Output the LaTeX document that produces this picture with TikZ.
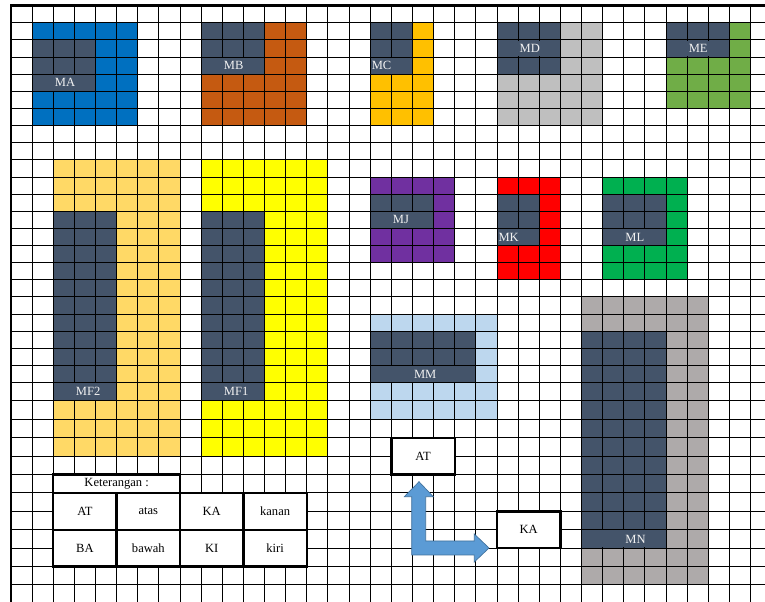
\documentclass[tikz,border=0pt]{standalone}
\usepackage{fontspec}
\setmainfont{Liberation Serif}
\definecolor{gelap}{HTML}{44546A}
\definecolor{biru}{HTML}{0070C0}
\definecolor{oranye}{HTML}{C55A11}
\definecolor{emas}{HTML}{FFC000}
\definecolor{abu}{HTML}{BFBFBF}
\definecolor{hijaumuda}{HTML}{70AD47}
\definecolor{kuningmuda}{HTML}{FFD966}
\definecolor{kuning}{HTML}{FFFF00}
\definecolor{ungu}{HTML}{7030A0}
\definecolor{merah}{HTML}{FF0000}
\definecolor{hijau}{HTML}{00B050}
\definecolor{birumuda}{HTML}{BDD7EE}
\definecolor{abutua}{HTML}{AEAAAA}
\definecolor{panahisi}{HTML}{5B9BD5}
\definecolor{panahtepi}{HTML}{41719C}
\definecolor{teksterang}{HTML}{F2F2F2}
% one coloured block of cells: colour, col from, row from, col to, row to
\newcommand{\blok}[5]{\fill[#1] ({cx(#2)},{ry(#3)}) rectangle ({cx(#4)},{ry(#5)});}
% name of a block: node name, col from, col to, row, text col, text
\newcommand{\namablok}[6]{%
  \fill[gelap] ({cx(#2)+0.7},{ry(#4)+0.7}) rectangle ({cx(#3)-0.7},{ry(#4+1)-0.7});
  \node[namateks] (#1) at ({cx(#5)},{(ry(#4)+ry(#4+1))/2}) {#6};}
\tikzset{
  garis/.style={black,line width=0.7pt},
  tebal/.style={black,line width=1.8pt},
  teks/.style={font=\fontsize{9.4}{11}\selectfont,inner sep=1pt},
  namateks/.style={teks,text=teksterang,anchor=west},
  kotak/.style={tebal,fill=white,teks,minimum width=47.5pt,minimum height=27.6pt},
  panah/.style={fill=panahisi,draw=panahtepi,line width=0.5pt,line join=miter}
}
\begin{document}
\begin{tikzpicture}[x=0.75pt,y=-0.75pt,
  declare function={cx(\c)=11+21.13*\c;
                    ry(\r)=5.7+17.13*min(\r,22)+18.4*max(\r-22,0);}]
  \useasboundingbox (0,0) rectangle (765,602);
  \clip (0,0) rectangle (765,602);
  \fill[white] (0,0) rectangle (765,602);
  % blocks, top row
  \blok{biru}{1}{1}{6}{7}
  \blok{gelap}{1}{2}{4}{5}
  \blok{oranye}{9}{1}{14}{7}
  \blok{gelap}{9}{1}{12}{4}
  \blok{emas}{17}{1}{20}{7}
  \blok{gelap}{17}{1}{19}{4}
  \blok{abu}{23}{1}{28}{7}
  \blok{gelap}{23}{1}{26}{4}
  \blok{hijaumuda}{31}{1}{35}{6}
  \blok{gelap}{31}{1}{34}{3}
  % long blocks
  \blok{kuningmuda}{2}{9}{8}{26}
  \blok{gelap}{2}{12}{5}{23}
  \blok{kuning}{9}{9}{15}{26}
  \blok{gelap}{9}{12}{12}{23}
  % middle blocks
  \blok{ungu}{17}{10}{21}{15}
  \blok{gelap}{17}{11}{20}{13}
  \blok{merah}{23}{10}{26}{16}
  \blok{gelap}{23}{11}{25}{14}
  \blok{hijau}{28}{10}{32}{16}
  \blok{gelap}{28}{11}{31}{14}
  \blok{birumuda}{17}{18}{23}{24}
  \blok{gelap}{17}{19}{22}{22}
  \blok{abutua}{27}{17}{33}{33}
  \blok{gelap}{27}{19}{31}{31}
  % grid
  \foreach \c in {1,...,36}
    \draw[garis] ({cx(\c)},{ry(0)}) -- ({cx(\c)},{ry(35)});
  \foreach \r in {1,...,35}
    \draw[garis] ({cx(0)},{ry(\r)}) -- ({cx(36)},{ry(\r)});
  \draw[tebal] ({cx(0)},{ry(35)}) -- ({cx(0)},{ry(0)}) -- ({cx(36)},{ry(0)});
  % names
  \namablok{ma}{1}{4}{4}{2}{MA}
  \namablok{mb}{9}{12}{3}{10}{MB}
  \namablok{mc}{17}{19}{3}{17}{MC}
  \namablok{md}{23}{26}{2}{24}{MD}
  \namablok{me}{31}{34}{2}{32}{ME}
  \namablok{mf2}{2}{5}{22}{3}{MF2}
  \namablok{mf1}{9}{12}{22}{10}{MF1}
  \namablok{mj}{17}{20}{12}{18}{MJ}
  \namablok{mk}{23}{25}{13}{23}{MK}
  \namablok{ml}{28}{31}{13}{29}{ML}
  \namablok{mm}{17}{22}{21}{19}{MM}
  \namablok{mn}{27}{31}{30}{29}{MN}
  % direction boxes
  \node[kotak,draw] (at) at ({(cx(18)+cx(21))/2},{ry(26)}) {AT};
  \node[kotak,draw] (ka) at ({(cx(23)+cx(26))/2},{ry(30)}) {KA};
  \draw[panah] (411.7,555) -- (411.7,496.7) -- (404.3,496.7) -- (419,481.7)
    -- (433.3,496.7) -- (425.7,496.7) -- (425.7,541) -- (474.3,541)
    -- (474.3,534) -- (489,548) -- (474.3,562) -- (474.3,555) -- cycle;
  % legend
  \draw[tebal,fill=white] ({cx(2)},{ry(27)}) rectangle ({cx(8)},{ry(28)});
  \node[teks] (ket) at ({cx(5)},{(ry(27)+ry(28))/2}) {Keterangan :};
  \draw[tebal,fill=white] ({cx(2)},{ry(28)}) rectangle ({cx(14)},{ry(32)});
  \foreach \c in {5,8,11}
    \draw[tebal] ({cx(\c)},{ry(28)}) -- ({cx(\c)},{ry(32)});
  \draw[tebal] ({cx(2)},{ry(30)}) -- ({cx(14)},{ry(30)});
  \foreach \teks [count=\i] in {AT,atas,KA,kanan}
    \node[teks] (atas\i) at ({cx(3*\i+0.5)},{ry(29)}) {\teks};
  \foreach \teks [count=\i] in {BA,bawah,KI,kiri}
    \node[teks] (bawah\i) at ({cx(3*\i+0.5)},{ry(31)}) {\teks};
\end{tikzpicture}
\end{document}
